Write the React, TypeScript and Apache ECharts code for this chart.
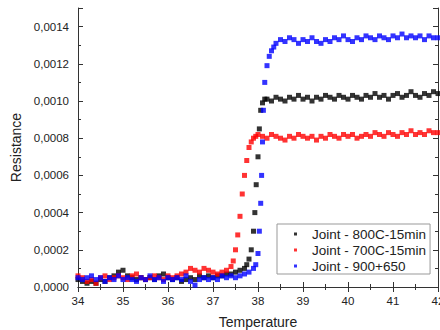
import React, { useEffect, useRef } from "react";
import * as echarts from "echarts";

const seriesNames = ["Joint - 800C-15min", "Joint - 700C-15min", "Joint - 900+650"];
const seriesColors = ["#000000", "#ff0000", "#0000ff"];

const temp800 = [
  34.0, 34.1, 34.2, 34.3, 34.4, 34.5, 34.6, 34.7, 34.8, 34.9,
  35.0, 35.1, 35.2, 35.3, 35.4, 35.5, 35.6, 35.7, 35.8, 35.9,
  36.0, 36.1, 36.2, 36.3, 36.4, 36.5, 36.6, 36.7, 36.8, 36.9,
  37.0, 37.1, 37.2, 37.3, 37.4, 37.5, 37.6,
  37.7, 37.75, 37.8, 37.85, 37.9, 37.93, 37.96, 38.0, 38.03, 38.06, 38.1, 38.15,
  38.2, 38.3, 38.4, 38.5, 38.6, 38.7, 38.8, 38.9, 39.0, 39.1,
  39.2, 39.3, 39.4, 39.5, 39.6, 39.7, 39.8, 39.9, 40.0, 40.1,
  40.2, 40.3, 40.4, 40.5, 40.6, 40.7, 40.8, 40.9, 41.0, 41.1,
  41.2, 41.3, 41.4, 41.5, 41.6, 41.7, 41.8, 41.9, 42.0,
];
const res800 = [
  0.00004, 0.00003, 0.00002, 0.00003, 0.00002, 0.00004, 0.00003, 0.00005, 0.00006, 0.00008,
  0.00009, 0.00006, 0.00005, 0.00004, 0.00005, 0.00004, 0.00005, 0.00004, 0.00006, 0.00007,
  0.00005, 0.00004, 0.00005, 0.00003, 0.00004, 0.00005, 0.00004, 0.00006, 0.00005, 0.00006,
  0.00005, 0.00006, 0.00006, 0.00007, 0.00007, 0.00008, 0.00009,
  0.0001, 0.00012, 0.00015, 0.0002, 0.0003, 0.0004, 0.00055, 0.0007, 0.00085, 0.00095, 0.00099, 0.00101,
  0.00101, 0.00100, 0.00102, 0.00101, 0.00100, 0.00102, 0.00101, 0.00103, 0.00101, 0.00102,
  0.00100, 0.00102, 0.00101, 0.00103, 0.00102, 0.00101, 0.00103, 0.00102, 0.00101, 0.00103,
  0.00102, 0.00101, 0.00103, 0.00102, 0.00104, 0.00102, 0.00103, 0.00101, 0.00103, 0.00104,
  0.00102, 0.00103, 0.00105, 0.00103, 0.00102, 0.00104, 0.00103, 0.00105, 0.00104,
];

const temp700 = [
  34.0, 34.1, 34.2, 34.3, 34.4, 34.5, 34.6, 34.7, 34.8, 34.9,
  35.0, 35.1, 35.2, 35.3, 35.4, 35.5, 35.6, 35.7, 35.8, 35.9,
  36.0, 36.1, 36.2, 36.3, 36.4, 36.5, 36.6, 36.7, 36.8, 36.9,
  37.0, 37.1, 37.2, 37.3, 37.4,
  37.45, 37.5, 37.55, 37.6, 37.65, 37.7, 37.75, 37.8, 37.85, 37.9, 37.95, 38.0,
  38.1, 38.2, 38.3, 38.4, 38.5, 38.6, 38.7, 38.8, 38.9, 39.0,
  39.1, 39.2, 39.3, 39.4, 39.5, 39.6, 39.7, 39.8, 39.9, 40.0,
  40.1, 40.2, 40.3, 40.4, 40.5, 40.6, 40.7, 40.8, 40.9, 41.0,
  41.1, 41.2, 41.3, 41.4, 41.5, 41.6, 41.7, 41.8, 41.9, 42.0,
];
const res700 = [
  0.00006, 0.00005, 0.00003, 0.00004, 0.00002, 0.00005, 0.00006, 0.00004, 0.00005, 0.00006,
  0.00005, 0.00004, 0.00006, 0.00007, 0.00005, 0.00004, 0.00005, 0.00006, 0.00005, 0.00004,
  0.00006, 0.00005, 0.00006, 0.00007, 0.00008, 0.00010, 0.00009, 0.00008, 0.00010, 0.00009,
  0.00008, 0.00007, 0.00008, 0.00009, 0.00011,
  0.00014, 0.0002, 0.00028, 0.00038, 0.0005, 0.0006, 0.00068, 0.00075, 0.00078, 0.0008, 0.00081, 0.00082,
  0.00081, 0.00080, 0.00082, 0.00081, 0.00080, 0.00079, 0.00081, 0.00080, 0.00082, 0.00081,
  0.00080, 0.00081, 0.00079, 0.00081, 0.00080, 0.00082, 0.00081, 0.00080, 0.00082, 0.00081,
  0.00082, 0.00080, 0.00081, 0.00082, 0.00081, 0.00083, 0.00082, 0.00081, 0.00083, 0.00082,
  0.00081, 0.00083, 0.00082, 0.00084, 0.00082, 0.00083, 0.00082, 0.00084, 0.00083, 0.00083,
];

const temp900 = [
  34.0, 34.1, 34.2, 34.3, 34.4, 34.5, 34.6, 34.7, 34.8, 34.9,
  35.0, 35.1, 35.2, 35.3, 35.4, 35.5, 35.6, 35.7, 35.8, 35.9,
  36.0, 36.1, 36.2, 36.3, 36.4, 36.5, 36.6, 36.7, 36.8, 36.9,
  37.0, 37.1, 37.2, 37.3, 37.4, 37.5, 37.6, 37.7, 37.8,
  37.9, 37.95, 38.0, 38.03, 38.06, 38.08, 38.1, 38.12, 38.15, 38.2, 38.25, 38.3, 38.35, 38.4,
  38.5, 38.6, 38.7, 38.8, 38.9, 39.0, 39.1, 39.2, 39.3, 39.4,
  39.5, 39.6, 39.7, 39.8, 39.9, 40.0, 40.1, 40.2, 40.3, 40.4,
  40.5, 40.6, 40.7, 40.8, 40.9, 41.0, 41.1, 41.2, 41.3, 41.4,
  41.5, 41.6, 41.7, 41.8, 41.9, 42.0,
];
const res900 = [
  0.00005, 0.00004, 0.00005, 0.00006, 0.00004, 0.00005, 0.00003, 0.00005, 0.00004, 0.00006,
  0.00004, 0.00005, 0.00004, 0.00003, 0.00005, 0.00004, 0.00006, 0.00004, 0.00005, 0.00003,
  0.00005, 0.00004, 0.00005, 0.00004, 0.00006, 0.00003, 0.00001, 0.00004, 0.00005, 0.00004,
  0.00005, 0.00004, 0.00006, 0.00005, 0.00006, 0.00005, 0.00006, 0.00007, 0.00008,
  0.0001, 0.00012, 0.00018, 0.0003, 0.00045, 0.0006, 0.00078, 0.00095, 0.0011, 0.00119, 0.00124, 0.00127, 0.00129, 0.00131,
  0.00133, 0.00132, 0.00134, 0.00133, 0.00131, 0.00133, 0.00132, 0.00134, 0.00132, 0.00131,
  0.00133, 0.00132, 0.00134, 0.00133, 0.00135, 0.00133, 0.00132, 0.00134, 0.00133, 0.00135,
  0.00134, 0.00133, 0.00135, 0.00134, 0.00133, 0.00135, 0.00134, 0.00136, 0.00134, 0.00135,
  0.00134, 0.00135, 0.00133, 0.00135, 0.00134, 0.00134,
];

const xMin = 34;
const xMax = 42;
const xStep = 1;
const yMin = 0;
const yMax = 0.0015;
const yStep = 0.0002;

const FONT = "'Liberation Sans', Arial, sans-serif";
const AXIS_COLOR = "#333333";

function pairs(xs: number[], ys: number[]) {
  return xs.map((x, i) => [x, ys[i]]);
}

export default function App() {
  const ref = useRef<HTMLDivElement>(null);
  useEffect(() => {
    if (!ref.current) return;
    const chart = echarts.init(ref.current, undefined, { renderer: "svg" });
    const fmtY = (v: number) => v.toFixed(4).replace(".", ",");
    const commonX = {
      type: "value" as const,
      min: xMin,
      max: xMax,
      interval: xStep,
      axisLine: { show: true, lineStyle: { color: AXIS_COLOR, width: 1 } },
      axisTick: { show: true, inside: true, length: 5, lineStyle: { color: AXIS_COLOR } },
      minorTick: { show: true, splitNumber: 2, length: 3, lineStyle: { color: AXIS_COLOR } },
      splitLine: { show: false },
    };
    const commonY = {
      type: "value" as const,
      min: yMin,
      max: yMax,
      interval: yStep,
      axisLine: { show: true, lineStyle: { color: AXIS_COLOR, width: 1 } },
      axisTick: { show: true, inside: true, length: 5, lineStyle: { color: AXIS_COLOR } },
      minorTick: { show: true, splitNumber: 2, length: 3, lineStyle: { color: AXIS_COLOR } },
      splitLine: { show: false },
    };
    const data = [pairs(temp800, res800), pairs(temp700, res700), pairs(temp900, res900)];
    chart.setOption({
      animation: false,
      backgroundColor: "#ffffff",
      grid: { left: 78, right: 2, top: 8, bottom: 43, containLabel: false, outerBoundsMode: "none" },
      xAxis: [
        {
          ...commonX,
          position: "bottom",
          name: "Temperature",
          nameLocation: "middle",
          nameGap: 28,
          nameTextStyle: { fontFamily: FONT, fontSize: 14, color: "#222" },
          axisLabel: { fontFamily: FONT, fontSize: 11.5, color: "#222", margin: 8 },
        },
        {
          ...commonX,
          position: "top",
          axisLabel: { show: false },
        },
      ],
      yAxis: [
        {
          ...commonY,
          position: "left",
          name: "Resistance",
          nameLocation: "middle",
          nameGap: 52,
          nameTextStyle: { fontFamily: FONT, fontSize: 14, color: "#222" },
          axisLabel: {
            fontFamily: FONT,
            fontSize: 11.5,
            color: "#222",
            margin: 9,
            showMaxLabel: false,
            formatter: fmtY,
          },
        },
        {
          ...commonY,
          position: "right",
          axisLabel: { show: false },
        },
      ],
      legend: {
        orient: "vertical",
        left: 277,
        top: 224,
        padding: [2, 4, 0, 17],
        itemGap: 0,
        itemWidth: 3,
        itemHeight: 3,
        icon: "rect",
        backgroundColor: "#ffffff",
        borderColor: "#999999",
        borderWidth: 1,
        borderRadius: 0,
        data: seriesNames,
        textStyle: {
          fontFamily: FONT,
          fontSize: 13.5,
          color: "#222",
          lineHeight: 16,
          padding: [0, 0, 0, 10],
        },
      },
      series: seriesNames.map((name, i) => ({
        name,
        type: "scatter",
        xAxisIndex: 0,
        yAxisIndex: 0,
        symbol: "rect",
        symbolSize: 5,
        itemStyle: { color: seriesColors[i] },
        data: data[i],
      })),
    });
    return () => chart.dispose();
  }, []);
  return (
    <div
      ref={ref}
      style={{ position: "fixed", left: 0, top: 0, width: 440, height: 330, background: "#fff" }}
    />
  );
}
